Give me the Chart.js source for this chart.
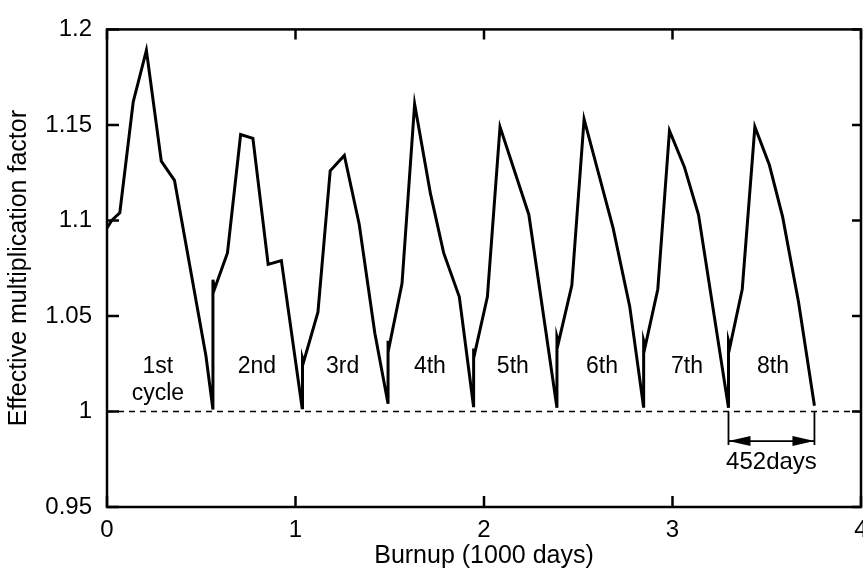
<!DOCTYPE html>
<html>
<head>
<meta charset="utf-8">
<title>Effective multiplication factor vs burnup</title>
<script src="https://cdn.jsdelivr.net/npm/chart.js@4.4.1/dist/chart.umd.min.js"></script>
<style>
  html, body { margin: 0; padding: 0; background: #fff; }
  #wrap { width: 863px; height: 571px; }
</style>
</head>
<body>
<div id="wrap"><canvas id="myChart" width="863" height="571"></canvas></div>
<script>
// burnup in 1000 days, keff
var burnup = [
  0.000, 0.025, 0.068, 0.139, 0.209, 0.288, 0.358, 0.525, 0.562,
  0.562, 0.570, 0.639, 0.709, 0.774, 0.855, 0.925, 1.035,
  1.037, 1.043, 1.119, 1.184, 1.259, 1.338, 1.421, 1.491,
  1.491, 1.497, 1.565, 1.632, 1.716, 1.786, 1.869, 1.944,
  1.945, 1.950, 2.018, 2.085, 2.238, 2.387,
  2.387, 2.395, 2.466, 2.531, 2.685, 2.773, 2.847,
  2.847, 2.855, 2.922, 2.984, 3.063, 3.138, 3.297,
  3.297, 3.305, 3.370, 3.437, 3.514, 3.584, 3.669, 3.753
];
var keff = [
  1.096, 1.100, 1.104, 1.162, 1.189, 1.131, 1.121, 1.029, 1.001,
  1.069, 1.064, 1.083, 1.145, 1.143, 1.077, 1.079, 1.002,
  1.028, 1.026, 1.052, 1.126, 1.134, 1.098, 1.041, 1.004,
  1.037, 1.034, 1.067, 1.161, 1.114, 1.083, 1.060, 1.003,
  1.033, 1.030, 1.060, 1.149, 1.103, 1.002,
  1.039, 1.036, 1.066, 1.153, 1.096, 1.055, 1.002,
  1.037, 1.034, 1.064, 1.147, 1.128, 1.103, 1.002,
  1.037, 1.034, 1.064, 1.149, 1.129, 1.102, 1.057, 1.003
];

// critical line
var critX = [0, 4];
var critY = [1, 1];

// cycle names and where they sit (data units)
var cycleNames = ['1st', '2nd', '3rd', '4th', '5th', '6th', '7th', '8th'];
var cycleLabelX = [0.27, 0.795, 1.25, 1.713, 2.153, 2.626, 3.077, 3.533];
var cycleLabelY = 1.0235;

// last cycle length annotation
var spanStart = 3.297;
var spanEnd = 3.753;
var spanText = '452days';

var xTicks = [0, 1, 2, 3, 4];
var yTicks = [0.95, 1, 1.05, 1.1, 1.15, 1.2];

var fontFam = "'Liberation Sans', Arial, Helvetica, sans-serif";

function toPoints(xs, ys) {
  var pts = [];
  for (var i = 0; i < xs.length; i++) {
    pts.push({x: xs[i], y: ys[i]});
  }
  return pts;
}

// frame, inward ticks, cycle labels and the 452 days arrow
var extras = {
  id: 'extras',
  afterDatasetsDraw: function(chart) {
    var ctx = chart.ctx;
    var a = chart.chartArea;
    var xs = chart.scales.x;
    var ys = chart.scales.y;
    ctx.save();

    ctx.strokeStyle = '#000';
    ctx.lineWidth = 2.5;
    ctx.strokeRect(a.left, a.top, a.right - a.left, a.bottom - a.top);

    ctx.beginPath();
    yTicks.forEach(function(v) {
      var py = ys.getPixelForValue(v);
      ctx.moveTo(a.left, py); ctx.lineTo(a.left + 12, py);
      ctx.moveTo(a.right, py); ctx.lineTo(a.right - 9, py);
    });
    xTicks.forEach(function(v) {
      var px = xs.getPixelForValue(v);
      ctx.moveTo(px, a.bottom); ctx.lineTo(px, a.bottom - 11);
      ctx.moveTo(px, a.top); ctx.lineTo(px, a.top + 10);
    });
    ctx.stroke();

    ctx.fillStyle = '#000';
    ctx.font = '23px ' + fontFam;
    ctx.textAlign = 'center';
    ctx.textBaseline = 'middle';
    for (var i = 0; i < cycleNames.length; i++) {
      ctx.fillText(cycleNames[i], xs.getPixelForValue(cycleLabelX[i]), ys.getPixelForValue(cycleLabelY));
    }
    ctx.fillText('cycle', xs.getPixelForValue(cycleLabelX[0]), ys.getPixelForValue(cycleLabelY) + 27);

    // span arrow
    var x1 = xs.getPixelForValue(spanStart);
    var x2 = xs.getPixelForValue(spanEnd);
    var yTop = ys.getPixelForValue(1);
    var yArrow = ys.getPixelForValue(0.9845);
    var yLow = ys.getPixelForValue(0.9825);
    ctx.lineWidth = 1.8;
    ctx.beginPath();
    ctx.moveTo(x1, yTop); ctx.lineTo(x1, yLow);
    ctx.moveTo(x2, yTop); ctx.lineTo(x2, yLow);
    ctx.moveTo(x1, yArrow); ctx.lineTo(x2, yArrow);
    ctx.stroke();
    ctx.beginPath();
    ctx.moveTo(x1, yArrow); ctx.lineTo(x1 + 22, yArrow - 5); ctx.lineTo(x1 + 22, yArrow + 5); ctx.closePath();
    ctx.moveTo(x2, yArrow); ctx.lineTo(x2 - 22, yArrow - 5); ctx.lineTo(x2 - 22, yArrow + 5); ctx.closePath();
    ctx.fill();
    ctx.font = '24px ' + fontFam;
    ctx.fillText(spanText, (x1 + x2) / 2, yArrow + 21);

    ctx.restore();
  }
};

var ctx = document.getElementById('myChart').getContext('2d');
var myChart = new Chart(ctx, {
  type: 'scatter',
  data: {
    datasets: [{
      label: 'keff',
      data: toPoints(burnup, keff),
      showLine: true,
      borderColor: '#000',
      borderWidth: 3,
      pointRadius: 0,
      tension: 0
    }, {
      label: 'critical',
      data: toPoints(critX, critY),
      showLine: true,
      borderColor: '#000',
      borderWidth: 1.3,
      borderDash: [6, 5],
      pointRadius: 0
    }]
  },
  options: {
    responsive: false,
    animation: false,
    devicePixelRatio: 1,
    layout: { padding: { top: 23, right: 2, left: 0, bottom: 0 } },
    plugins: {
      legend: { display: false },
      tooltip: { enabled: false }
    },
    scales: {
      x: {
        type: 'linear',
        min: 0,
        max: 4,
        grid: { display: false, drawTicks: false },
        border: { display: false },
        afterFit: function(s) { s.height = 64; s.paddingLeft = 0; s.paddingRight = 0; },
        afterBuildTicks: function(s) { s.ticks = xTicks.map(function(v) { return {value: v}; }); },
        ticks: {
          color: '#000',
          padding: 9,
          maxRotation: 0,
          font: { family: fontFam, size: 24 },
          callback: function(v) { return String(v); }
        },
        title: {
          display: true,
          text: 'Burnup (1000 days)',
          color: '#000',
          font: { family: fontFam, size: 25 },
          padding: { top: 0, bottom: 0 }
        }
      },
      y: {
        type: 'linear',
        min: 0.95,
        max: 1.2,
        grid: { display: false, drawTicks: false },
        border: { display: false },
        afterFit: function(s) { s.width = 107; },
        afterBuildTicks: function(s) { s.ticks = yTicks.map(function(v) { return {value: v}; }); },
        ticks: {
          color: '#000',
          padding: 15,
          font: { family: fontFam, size: 24 },
          callback: function(v) { return String(+v.toFixed(2)); }
        },
        title: {
          display: true,
          text: 'Effective multiplication factor',
          color: '#000',
          font: { family: fontFam, size: 25 },
          padding: { top: 4, bottom: 0 }
        }
      }
    }
  },
  plugins: [extras]
});
</script>
</body>
</html>
